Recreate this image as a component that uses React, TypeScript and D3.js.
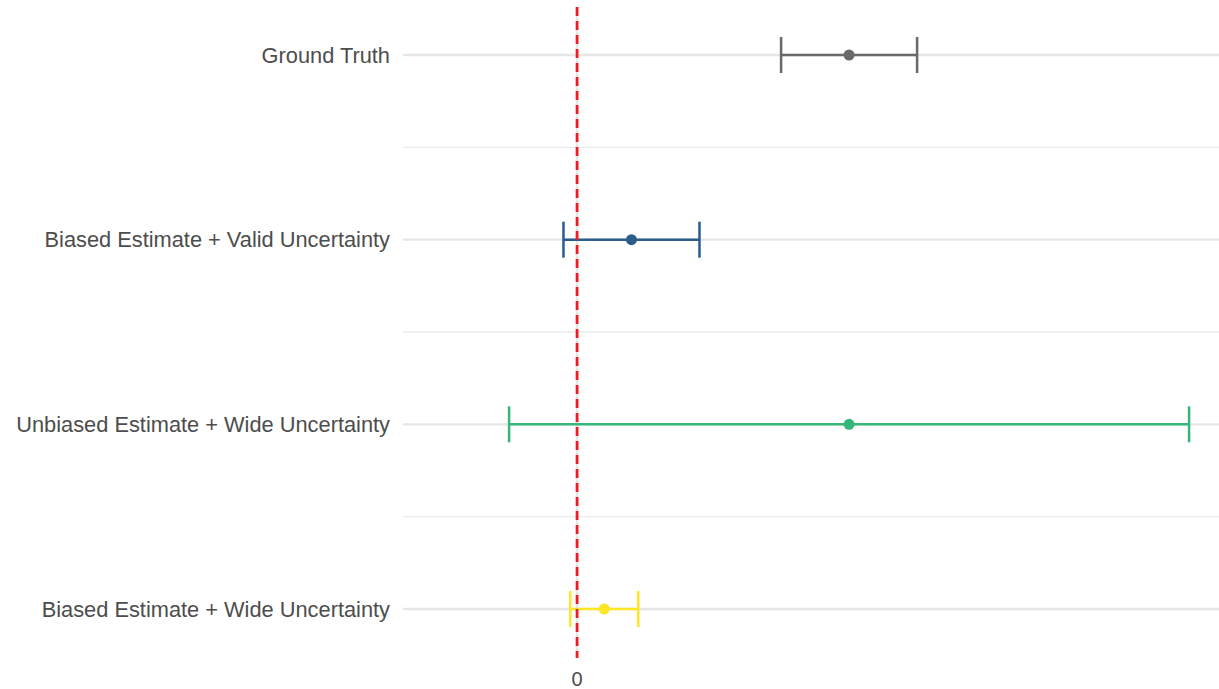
import React, { useRef, useEffect } from "react";
import * as d3 from "d3";

// estimates (truth at 2, units of the x axis)
const categories = [
  "Ground Truth",
  "Biased Estimate + Valid Uncertainty",
  "Unbiased Estimate + Wide Uncertainty",
  "Biased Estimate + Wide Uncertainty",
];
const estimates = [2, 0.4, 2, 0.2];
const lower = [1.5, -0.1, -0.5, -0.05];
const upper = [2.5, 0.9, 4.5, 0.45];
const colors = ["#696969", "#2B5C8A", "#35B779", "#FDE725"];
const xTicks = [0];

const App = () => {
  const ref = useRef<SVGSVGElement>(null);

  useEffect(() => {
    const width = 1219;
    const height = 689;
    const left = 403;
    const right = 1219;
    const top = 7;
    const bottom = 658;
    const font = "'Liberation Sans', Arial, sans-serif";

    const svg = d3.select(ref.current);
    svg.selectAll("*").remove();

    const x = d3.scaleLinear().domain([-1.28, 4.72]).range([left, right]);
    const y = d3.scalePoint<string>().domain(categories).range([55, 609]);
    const step = y.step();

    const rows = categories.map((c, i) => ({
      name: c, est: estimates[i], lo: lower[i], hi: upper[i], color: colors[i],
    }));

    const grid = svg.append("g");
    // minor gridlines between categories
    grid.selectAll("line.minor")
      .data(categories.slice(1))
      .join("line")
      .attr("class", "minor")
      .attr("x1", left).attr("x2", right)
      .attr("y1", d => y(d)! - step / 2).attr("y2", d => y(d)! - step / 2)
      .attr("stroke", "#ebebeb").attr("stroke-width", 1.3);
    grid.selectAll("line.major")
      .data(categories)
      .join("line")
      .attr("class", "major")
      .attr("x1", left).attr("x2", right)
      .attr("y1", d => y(d)!).attr("y2", d => y(d)!)
      .attr("stroke", "#e6e6e6").attr("stroke-width", 2.4);
    grid.selectAll("line.vmajor")
      .data(xTicks)
      .join("line")
      .attr("class", "vmajor")
      .attr("x1", d => x(d)).attr("x2", d => x(d))
      .attr("y1", top).attr("y2", bottom)
      .attr("stroke", "#e6e6e6").attr("stroke-width", 2.4);

    // y labels
    svg.append("g")
      .selectAll("text")
      .data(categories)
      .join("text")
      .attr("x", 390)
      .attr("y", d => y(d)!)
      .attr("dy", "0.35em")
      .attr("text-anchor", "end")
      .attr("fill", "#4d4d4d")
      .style("font", `21.8px ${font}`)
      .text(d => d);

    // x tick labels
    svg.append("g")
      .selectAll("text")
      .data(xTicks)
      .join("text")
      .attr("x", d => x(d))
      .attr("y", 686)
      .attr("text-anchor", "middle")
      .attr("fill", "#4d4d4d")
      .style("font", `20px ${font}`)
      .text(d => d);

    // error bars
    const bars = svg.append("g").selectAll("g").data(rows).join("g");
    bars.append("line")
      .attr("x1", d => x(d.lo)).attr("x2", d => x(d.hi))
      .attr("y1", d => y(d.name)!).attr("y2", d => y(d.name)!)
      .attr("stroke", d => d.color).attr("stroke-width", 2.5);
    bars.append("line")
      .attr("x1", d => x(d.lo)).attr("x2", d => x(d.lo))
      .attr("y1", d => y(d.name)! - 18).attr("y2", d => y(d.name)! + 18)
      .attr("stroke", d => d.color).attr("stroke-width", 2.5);
    bars.append("line")
      .attr("x1", d => x(d.hi)).attr("x2", d => x(d.hi))
      .attr("y1", d => y(d.name)! - 18).attr("y2", d => y(d.name)! + 18)
      .attr("stroke", d => d.color).attr("stroke-width", 2.5);
    bars.append("circle")
      .attr("cx", d => x(d.est)).attr("cy", d => y(d.name)!)
      .attr("r", 5.5)
      .attr("fill", d => d.color);

    // reference line at zero
    svg.append("line")
      .attr("x1", x(0)).attr("x2", x(0))
      .attr("y1", top).attr("y2", bottom)
      .attr("stroke", "#ee1c25")
      .attr("stroke-width", 2.8)
      .attr("stroke-dasharray", "9,5");

    svg.attr("width", width).attr("height", height);
  }, []);

  return (
    <svg
      ref={ref}
      width={1219}
      height={689}
      style={{ position: "absolute", left: 0, top: 0, background: "#fff" }}
    />
  );
};

export default App;
